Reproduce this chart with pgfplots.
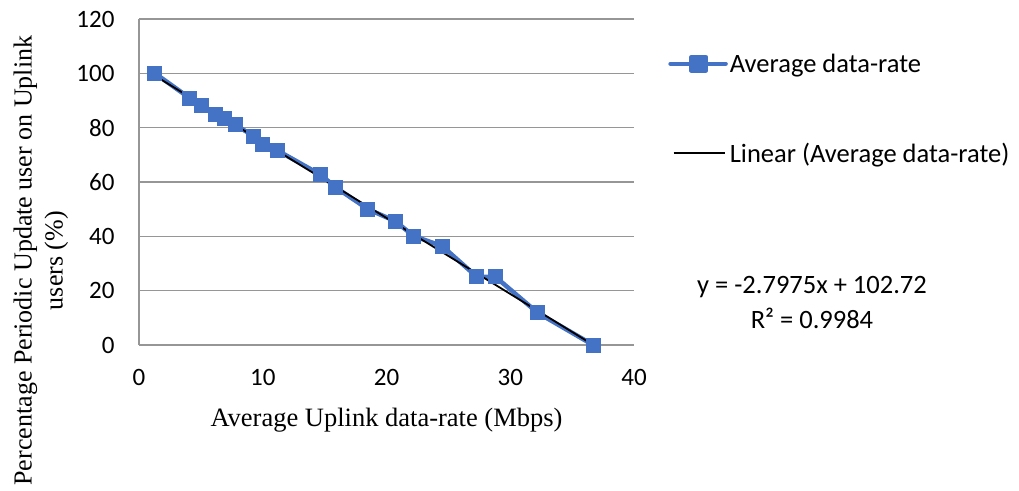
\documentclass[border=0pt]{standalone}
\usepackage{fontspec}
\setmainfont{Liberation Serif}
\newfontfamily\carlito{Carlito}
\usepackage{pgfplots}
\pgfplotsset{compat=1.18}
\definecolor{serblue}{HTML}{4472C4}
\definecolor{gridgray}{RGB}{150,150,150}
\begin{document}
\begin{tikzpicture}[x=1pt,y=1pt]
\useasboundingbox (0,0) rectangle (1019,490);
\begin{axis}[
  at={(139pt,145pt)}, anchor=south west,
  scale only axis, width=495pt, height=326pt,
  xmin=0, xmax=40, ymin=0, ymax=120,
  xtick={0,10,20,30,40}, ytick={0,20,40,60,80,100,120},
  axis x line=bottom, axis y line=left,
  axis line style={gridgray, line width=1.5pt, -},
  x axis line style={-}, y axis line style={-},
  ymajorgrids, grid style={gridgray, line width=1.5pt},
  major tick length=0pt,
  /pgf/number format/assume math mode=true,
  ticklabel style={font=\carlito\fontsize{25}{30}\selectfont},
  xticklabel style={yshift=-21pt},
  yticklabel style={xshift=-21pt},
  xlabel={Average Uplink data-rate (Mbps)},
  xlabel style={font=\fontsize{26.5}{31}\selectfont, at={(axis description cs:0.5,-0.23)}, anchor=center},
  ylabel={Percentage Periodic Update user on Uplink\\users (\%)},
  ylabel style={font=\fontsize{26}{31}\selectfont, align=center, at={(axis description cs:-0.198,0.259)}, anchor=center},
  legend style={draw=none, fill=none, at={(axis description cs:1.069,0.90)}, anchor=north west, inner sep=0pt,
    font=\carlito\fontsize{26.5}{31}\selectfont, row sep=65pt, nodes={inner sep=2pt}},
  legend cell align=left,
  clip=false,
]
\addplot[serblue, line width=4.5pt, line join=round, mark=square*, mark size=7pt, mark options={solid, fill=serblue, draw=serblue, line width=0pt},
  legend image code/.code={\draw[serblue, line width=4.5pt, line cap=round] (0pt,0pt) -- (55pt,0pt);
    \fill[serblue] (21pt,-7pt) rectangle (35pt,7pt);}]
coordinates {
(1.29,100) (4.12,90.8) (5.07,88.3) (6.22,85.0) (6.87,83.2) (7.76,81.0) (9.29,76.9) (9.94,73.9) (11.23,71.5)
(14.7,62.6) (15.9,58.0) (18.5,50.0) (20.7,45.6) (22.2,40.1) (24.5,36.4) (27.3,25.1) (28.8,25.1) (32.2,11.9) (36.7,0)
};
\addlegendentry{Average data-rate}
\addplot[black, line width=1.8pt, no marks,
  legend image code/.code={\draw[black, line width=1.8pt] (3pt,0pt) -- (54pt,0pt);}]
coordinates {(1.29,99.11) (36.7,0.05)};
\addlegendentry{Linear (Average data-rate)}
\end{axis}
\node[font=\carlito\fontsize{26.5}{31}\selectfont] at (812,203) {y = -2.7975x + 102.72};
\node[font=\carlito\fontsize{26.5}{31}\selectfont] at (812,172) {R² = 0.9984};
\end{tikzpicture}
\end{document}
